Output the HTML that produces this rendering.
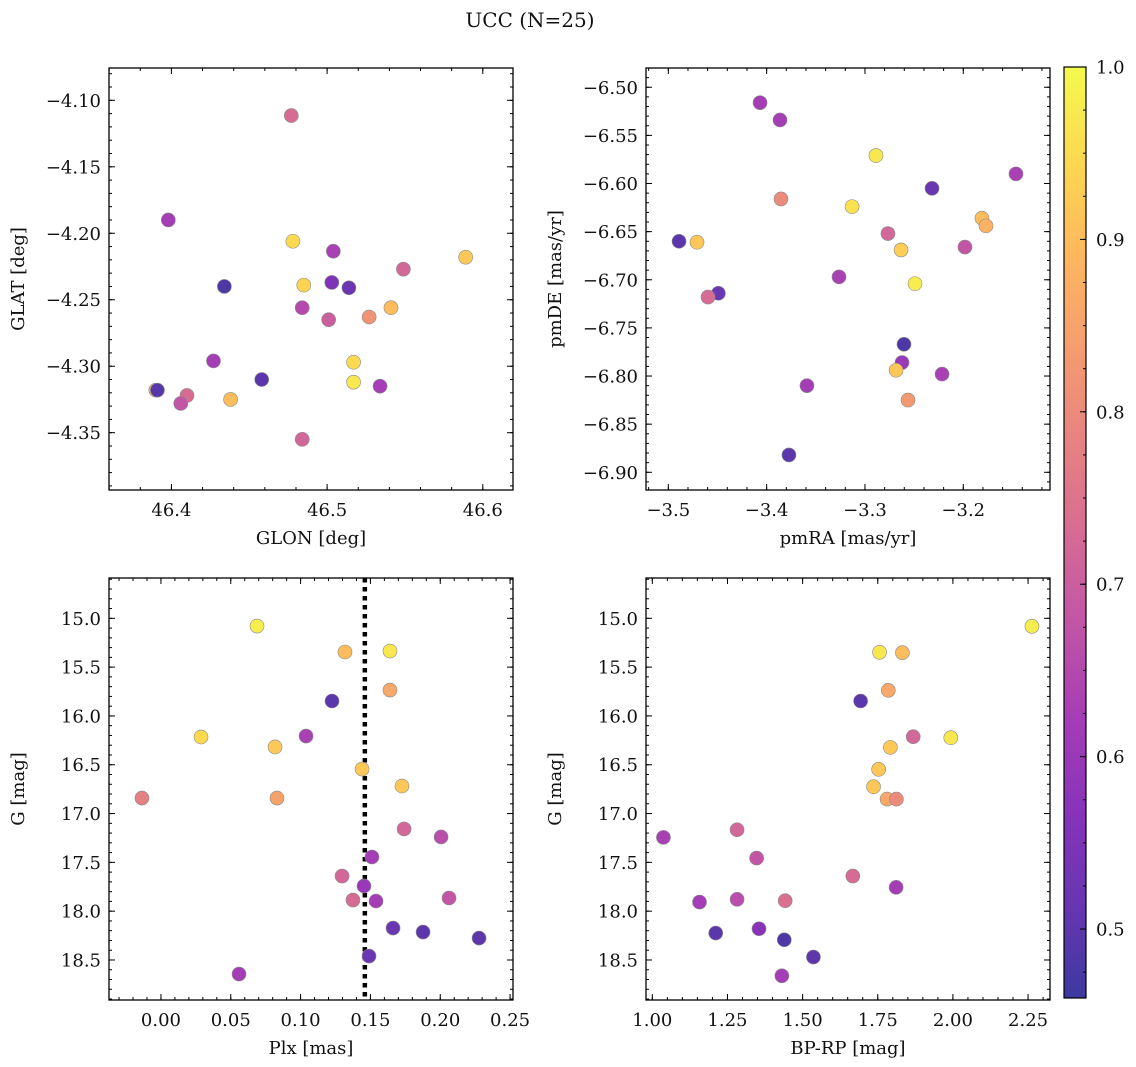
<!DOCTYPE html>
<html><head><meta charset="utf-8">
<style>
html,body{margin:0;padding:0;background:#fff;}
svg{display:block;font-family:"DejaVu Serif","Liberation Serif",serif;}
</style></head>
<body>
<svg id="fig" width="1136" height="1067" viewBox="0 0 1136 1067" xmlns="http://www.w3.org/2000/svg">
<text x="530" y="27" font-size="20" text-anchor="middle" fill="#111">UCC (N=25)</text>
</svg>
<script>
// ---- data ----
const glon = [46.477,46.398,46.478,46.504,46.589,46.434,46.485,46.503,46.514,46.549,46.484,46.501,46.527,46.541,46.427,46.517,46.458,46.517,46.534,46.390,46.391,46.410,46.406,46.438,46.484];
const glat = [-4.1115,-4.190,-4.206,-4.2135,-4.218,-4.240,-4.239,-4.237,-4.241,-4.227,-4.256,-4.265,-4.263,-4.256,-4.296,-4.297,-4.310,-4.312,-4.315,-4.318,-4.318,-4.322,-4.328,-4.325,-4.355];
const cGal = [0.73,0.62,0.95,0.63,0.92,0.48,0.94,0.55,0.52,0.72,0.65,0.70,0.82,0.90,0.62,0.95,0.50,0.97,0.62,0.88,0.49,0.73,0.68,0.90,0.72];

const pmra = [-3.4067,-3.3864,-3.2888,-3.1464,-3.2318,-3.3854,-3.3131,-3.4891,-3.4708,-3.2766,-3.1810,-3.1769,-3.2633,-3.1983,-3.3264,-3.2491,-3.4491,-3.4596,-3.2603,-3.2623,-3.2684,-3.2216,-3.3590,-3.2562,-3.3773];
const pmde = [-6.516,-6.534,-6.571,-6.590,-6.605,-6.616,-6.624,-6.660,-6.661,-6.652,-6.636,-6.644,-6.669,-6.666,-6.697,-6.704,-6.714,-6.718,-6.767,-6.786,-6.794,-6.798,-6.810,-6.825,-6.882];
const cPm = [0.62,0.62,0.97,0.63,0.52,0.80,0.96,0.50,0.92,0.72,0.90,0.88,0.93,0.68,0.63,0.98,0.52,0.73,0.48,0.60,0.92,0.63,0.62,0.83,0.50];

const plx = [0.0688,0.1318,0.1640,0.1640,0.1225,0.0287,0.1039,0.0817,0.1440,-0.0136,0.0831,0.1726,0.1741,0.2006,0.1511,0.1297,0.1454,0.1375,0.1540,0.2063,0.1662,0.1877,0.2278,0.1490,0.0559];
const gPlx = [15.079,15.345,15.335,15.735,15.847,16.216,16.206,16.318,16.544,16.841,16.841,16.718,17.158,17.240,17.445,17.640,17.742,17.886,17.896,17.865,18.173,18.214,18.276,18.460,18.644];
const cPlx = [0.98,0.90,0.97,0.86,0.50,0.95,0.63,0.92,0.92,0.78,0.85,0.92,0.72,0.66,0.62,0.72,0.60,0.73,0.62,0.68,0.52,0.50,0.50,0.52,0.62];
const plxLine = [0.146];

const bprp = [2.263,1.756,1.832,1.785,1.693,1.868,1.993,1.792,1.753,1.736,1.781,1.812,1.037,1.282,1.347,1.667,1.811,1.157,1.282,1.442,1.211,1.355,1.439,1.536,1.431];
const gCmd = [15.082,15.348,15.352,15.738,15.847,16.213,16.223,16.322,16.547,16.725,16.852,16.852,17.244,17.166,17.456,17.640,17.756,17.907,17.879,17.893,18.224,18.180,18.293,18.470,18.662];
const cCmd = [0.98,0.97,0.90,0.86,0.50,0.72,0.97,0.92,0.92,0.92,0.86,0.80,0.63,0.72,0.68,0.73,0.62,0.62,0.66,0.74,0.50,0.57,0.48,0.50,0.62];

const ticksGlon = [46.4,46.5,46.6];
const ticksGlat = [-4.10,-4.15,-4.20,-4.25,-4.30,-4.35];
const ticksPmra = [-3.5,-3.4,-3.3,-3.2];
const ticksPmde = [-6.50,-6.55,-6.60,-6.65,-6.70,-6.75,-6.80,-6.85,-6.90];
const ticksPlx = [0.00,0.05,0.10,0.15,0.20,0.25];
const ticksG = [15.0,15.5,16.0,16.5,17.0,17.5,18.0,18.5];
const ticksBprp = [1.00,1.25,1.50,1.75,2.00,2.25];
const ticksCbar = [0.5,0.6,0.7,0.8,0.9,1.0];

const NS='http://www.w3.org/2000/svg';
const svg=document.getElementById('fig');
function el(tag,attrs,parent){const e=document.createElementNS(NS,tag);for(const k in attrs)e.setAttribute(k,attrs[k]);(parent||svg).appendChild(e);return e;}

const plasma=[[13,8,135],[65,4,157],[106,0,168],[143,13,164],[177,42,144],[204,71,120],[225,100,98],[242,132,75],[252,166,54],[252,206,37],[240,249,33]];
const CMIN=0.46,CMAX=1.0,ALPHA=0.8;
function cmap(v){let t=(v-CMIN)/(CMAX-CMIN);t=Math.max(0,Math.min(1,t));const p=t*10,i=Math.min(9,Math.floor(p)),f=p-i;
  const a=plasma[i],b=plasma[i+1];return [0,1,2].map(k=>a[k]+(b[k]-a[k])*f);}
function blend(c){return 'rgb('+c.map(x=>Math.round(x*ALPHA+255*(1-ALPHA))).join(',')+')';}
function fmt(v,d){const s=Math.abs(v).toFixed(d);return (v<0?'\u2212':'')+s;}

const FS=18;
function panel(name,box,xr,yr,xt,yt,xd,yd,xminor,yminor,xlab,ylab,xs,ys,cs,invertY,extra){
  const [L,T,R,B]=box;
  const g=el('g',{});
  
  
  const X=v=>L+(v-xr[0])/(xr[1]-xr[0])*(R-L);
  const Y=invertY?(v=>T+(v-yr[0])/(yr[1]-yr[0])*(B-T)):(v=>B-(v-yr[0])/(yr[1]-yr[0])*(B-T));
  const ticks=el('g',{stroke:'#000','stroke-width':1},g);
  
  
  const xlo=Math.min(xr[0],xr[1]),xhi=Math.max(xr[0],xr[1]);
  for(let v=Math.ceil(xlo/xminor-1e-6)*xminor;v<=xhi+1e-9;v+=xminor){const x=X(v);if(x<L||x>R)continue;
    el('line',{x1:x,y1:B,x2:x,y2:B-3},ticks);el('line',{x1:x,y1:T,x2:x,y2:T+3},ticks);}
  const ylo=Math.min(yr[0],yr[1]),yhi=Math.max(yr[0],yr[1]);
  for(let v=Math.ceil(ylo/yminor-1e-6)*yminor;v<=yhi+1e-9;v+=yminor){const y=Y(v);if(y<T||y>B)continue;
    el('line',{x1:L,y1:y,x2:L+3,y2:y},ticks);el('line',{x1:R,y1:y,x2:R-3,y2:y},ticks);}
  xt.forEach(v=>{const x=X(v);
    el('line',{x1:x,y1:B,x2:x,y2:B-6},ticks);el('line',{x1:x,y1:T,x2:x,y2:T+6},ticks);
    const t=el('text',{x:x,y:B+26,'font-size':FS,'text-anchor':'middle',fill:'#111'},g);t.textContent=fmt(v,xd);
    
    });
  yt.forEach(v=>{const y=Y(v);
    el('line',{x1:L,y1:y,x2:L+6,y2:y},ticks);el('line',{x1:R,y1:y,x2:R-6,y2:y},ticks);
    const t=el('text',{x:L-8,y:y+6.5,'font-size':FS,'text-anchor':'end',fill:'#111'},g);t.textContent=fmt(v,yd);
    
    });
  if(extra)extra(g,X,Y);
  for(let i=0;i<xs.length;i++){
    const c=el('circle',{cx:X(xs[i]),cy:Y(ys[i]),r:7,fill:blend(cmap(cs[i])),stroke:'#8a8a8a','stroke-width':0.6},g);
    
    
  }
  const fr=el('rect',{x:L,y:T,width:R-L,height:B-T,fill:'none',stroke:'#000','stroke-width':1.3},g);
  
  
  const xl=el('text',{x:(L+R)/2,y:B+54,'font-size':FS,'text-anchor':'middle',fill:'#111'},g);xl.textContent=xlab;
  
  
  const yx=L-85,yy=(T+B)/2;
  const yl=el('text',{x:yx,y:yy,'font-size':FS,'text-anchor':'middle',fill:'#111',transform:`rotate(-90 ${yx} ${yy})`},g);yl.textContent=ylab;
  
  
}

panel('glon-glat-panel',[109,68,513,490],[46.3599,46.6194],[-4.3931,-4.0757],ticksGlon,ticksGlat,1,2,0.02,0.01,'GLON [deg]','GLAT [deg]',glon,glat,cGal,false);
panel('pm-panel',[646,68,1050,490],[-3.5227,-3.1118],[-6.9184,-6.4800],ticksPmra,ticksPmde,1,2,0.02,0.01,'pmRA [mas/yr]','pmDE [mas/yr]',pmra,pmde,cPm,false);
panel('plx-g-panel',[109,578,513,1000],[-0.0372,0.2521],[14.587,18.91],ticksPlx,ticksG,2,1,0.01,0.1,'Plx [mas]','G [mag]',plx,gPlx,cPlx,true,
  (g,X,Y)=>{plxLine.forEach(v=>{const l=el('line',{x1:X(v),y1:578,x2:X(v),y2:1000,stroke:'#000','stroke-width':4.5,'stroke-dasharray':'4.5 4.5'},g);
    
    });});
panel('cmd-panel',[646,578,1050,1000],[0.979,2.323],[14.587,18.91],ticksBprp,ticksG,2,1,0.05,0.1,'BP-RP [mag]','G [mag]',bprp,gCmd,cCmd,true);

const cb=el('g',{});


const CL=1064,CR=1086,CT=67,CB=998;
const defs=el('defs',{},svg);
const grad=el('linearGradient',{id:'cbg',x1:0,y1:1,x2:0,y2:0},defs);
for(let i=0;i<=20;i++){const v=CMIN+(CMAX-CMIN)*i/20;el('stop',{offset:(i/20),'stop-color':blend(cmap(v))},grad);}
el('rect',{x:CL,y:CT,width:CR-CL,height:CB-CT,fill:'url(#cbg)',stroke:'#000','stroke-width':1.2},cb);
const CY=v=>CB-(v-CMIN)/(CMAX-CMIN)*(CB-CT);
for(let v=0.475;v<1.0;v+=0.025){el('line',{x1:CR,y1:CY(v),x2:CR-3,y2:CY(v),stroke:'#000'},cb);}
ticksCbar.forEach(v=>{const y=CY(v);el('line',{x1:CR,y1:y,x2:CR-6,y2:y,stroke:'#000'},cb);
  const t=el('text',{x:1096,y:y+6.5,'font-size':FS,fill:'#111'},cb);t.textContent=v.toFixed(1);
  
  });
</script>
</body></html>
